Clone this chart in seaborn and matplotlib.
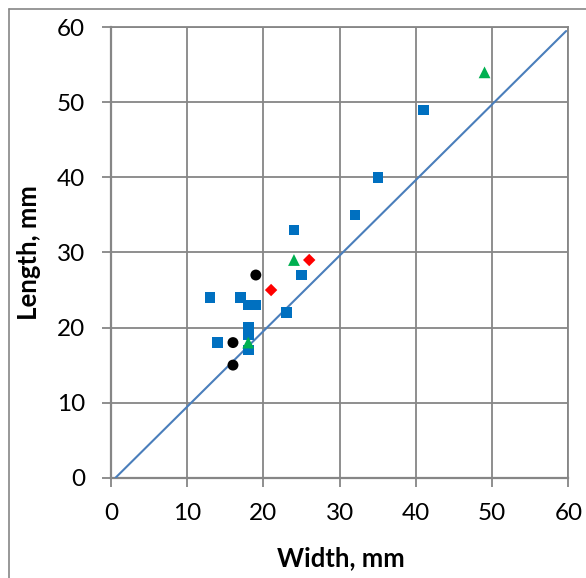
import matplotlib
matplotlib.use("Agg")
import matplotlib.pyplot as plt
import seaborn as sns
import pandas as pd
from matplotlib.lines import Line2D

# ---- data ----
blue_x = [13, 14, 17, 18, 18, 18, 18, 19, 23, 24, 25, 32, 35, 41]
blue_y = [24, 18, 24, 23, 20, 19, 17, 23, 22, 33, 27, 35, 40, 49]
green_x = [18, 24, 49]
green_y = [18, 29, 54]
red_x = [21, 26]
red_y = [25, 29]
black_x = [16, 16, 19]
black_y = [15, 18, 27]
line_x = [0.6, 59.7]
line_y = [0.0, 59.5]
ticks = [0, 10, 20, 30, 40, 50, 60]

sns.set_theme(style="white")
plt.rcParams['font.family'] = ['Lato', 'DejaVu Sans']

W, H = 586, 578
fig = plt.figure(figsize=(W / 100, H / 100), dpi=100)
ax = fig.add_axes([111 / W, 1 - 477.7 / H, (568.4 - 111) / W, (477.7 - 27.3) / H])

grid_c = "#868686"

sns.lineplot(x=line_x, y=line_y, ax=ax, color="#4a7ebb", linewidth=1.5, zorder=3)
sns.scatterplot(x=blue_x, y=blue_y, ax=ax, marker="s", color="#0070c0", s=58,
                edgecolor="none", linewidth=0, zorder=4)
sns.scatterplot(x=green_x, y=green_y, ax=ax, marker="^", color="#00b050", s=72,
                edgecolor="none", linewidth=0, zorder=5)
sns.scatterplot(x=red_x, y=red_y, ax=ax, marker="D", color="#ff0000", s=40,
                edgecolor="none", linewidth=0, zorder=5)
sns.scatterplot(x=black_x, y=black_y, ax=ax, marker="o", color="#000000", s=62,
                edgecolor="none", linewidth=0, zorder=5)

ax.set_xlim(0, 60)
ax.set_ylim(0, 60)
ax.set_xticks(ticks)
ax.set_yticks(ticks)
ax.set_xticklabels([str(t) for t in ticks])
ax.set_yticklabels([str(t) for t in ticks])
ax.grid(True, color=grid_c, linewidth=1.3)
ax.set_axisbelow(True)
for side in ["top", "right"]:
    ax.spines[side].set_color(grid_c)
    ax.spines[side].set_linewidth(1.3)
for side in ["left", "bottom"]:
    ax.spines[side].set_color(grid_c)
    ax.spines[side].set_linewidth(1.6)
ax.tick_params(axis="both", which="major", direction="out", length=6.5, width=1.3,
               color=grid_c, labelsize=17.5, pad=12, labelcolor="#000000",
               bottom=True, left=True)

ax.set_xlabel("Width, mm", fontsize=18.5, fontweight="bold", color="#000000")
ax.set_ylabel("Length, mm", fontsize=18.5, fontweight="bold", color="#000000")
ax.xaxis.set_label_coords((341 - 111) / (568.4 - 111), -(558 - 477.7) / (477.7 - 27.3))
ax.yaxis.set_label_coords(-(111 - 29) / (568.4 - 111), (477.7 - 253) / (477.7 - 27.3))
ax.xaxis.label.set_va("center")
ax.yaxis.label.set_va("center")

# outer chart border (cut by the image edge on right and bottom)
fig.add_artist(Line2D([8.5 / W, 8.5 / W], [0, 1 - 8.5 / H], transform=fig.transFigure,
                      color="#868686", linewidth=1.2))
fig.add_artist(Line2D([8.5 / W, 1], [1 - 8.5 / H, 1 - 8.5 / H], transform=fig.transFigure,
                      color="#868686", linewidth=1.2))

fig.savefig("out.png", dpi=100, facecolor="white")
